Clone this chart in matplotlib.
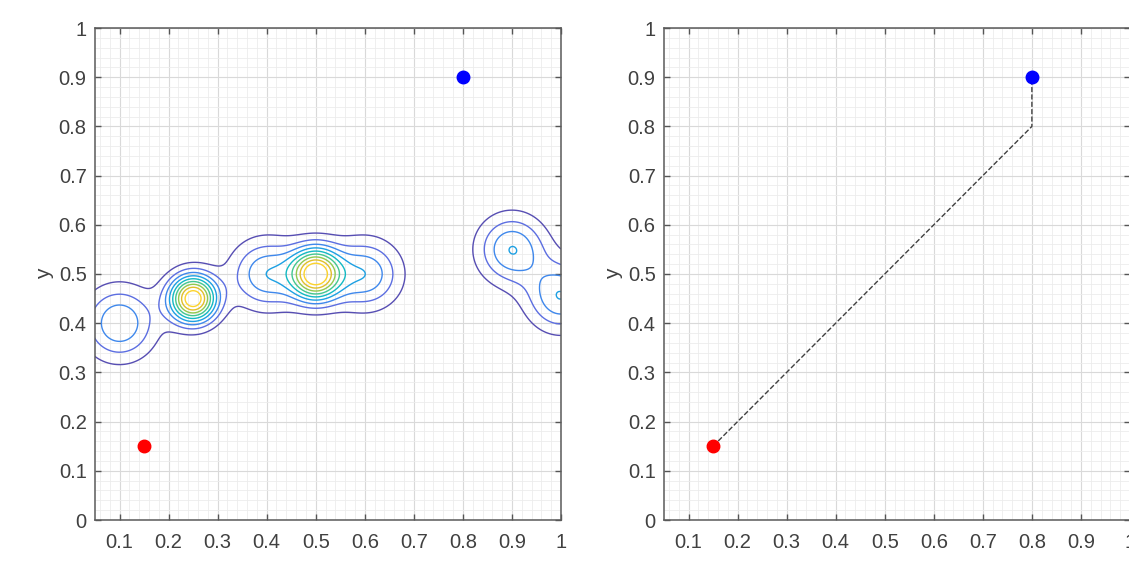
import numpy as np
import matplotlib.pyplot as plt
from matplotlib.colors import LinearSegmentedColormap
from matplotlib.ticker import MultipleLocator

plt.rcParams['font.family'] = ['Liberation Sans', 'DejaVu Sans']

# obstacle bumps of the potential field (centre, height, spread)
obs_x = [0.10, 0.25, 0.40, 0.50, 0.60, 0.90, 1.00]
obs_y = [0.40, 0.45, 0.50, 0.50, 0.50, 0.55, 0.455]
obs_amp = [3.9, 10.0, 3.85, 9.6, 3.85, 3.98, 3.98]
obs_sx = [0.051, 0.034, 0.050, 0.035, 0.050, 0.048, 0.048]
obs_sy = [0.051, 0.034, 0.048, 0.037, 0.048, 0.048, 0.048]
levels = [1, 2, 3, 4, 5, 6, 7, 8, 9]

start_x, start_y = 0.15, 0.15
goal_x, goal_y = 0.80, 0.90
path_x = [0.15, 0.80, 0.80]
path_y = [0.15, 0.80, 0.90]

# parula-like colormap
parula = LinearSegmentedColormap.from_list("parula", [
    (0.29, 0.24, 0.58), (0.40, 0.38, 0.85), (0.30, 0.50, 0.93),
    (0.1540, 0.5902, 0.9218), (0.0297, 0.7082, 0.8163), (0.1938, 0.7758, 0.6251),
    (0.5044, 0.7993, 0.3480), (0.8634, 0.7406, 0.1596), (0.9892, 0.8136, 0.1885),
    (0.9763, 0.9831, 0.0538)])

gx = np.linspace(0, 1, 501)
X, Y = np.meshgrid(gx, gx)
Z = np.zeros_like(X)
for cx, cy, a, sx, sy in zip(obs_x, obs_y, obs_amp, obs_sx, obs_sy):
    Z += a * np.exp(-(X - cx)**2 / (2 * sx**2) - (Y - cy)**2 / (2 * sy**2))

fig = plt.figure(figsize=(11.29, 5.67), dpi=100)
ax1 = fig.add_axes([95/1129, 47/567, 466/1129, 492/567])
ax2 = fig.add_axes([664/1129, 47/567, 466/1129, 492/567])

ax1.contour(X, Y, Z, levels=levels, cmap=parula, vmin=0.5, vmax=10, linewidths=1.0)
ax1.plot(start_x, start_y, 'o', color='#ff0000', markersize=9)
ax1.plot(goal_x, goal_y, 'o', color='#0000ff', markersize=9)

ax2.plot(path_x, path_y, '--', color='#404040', linewidth=1.0)
ax2.plot(start_x, start_y, 'o', color='#ff0000', markersize=9)
ax2.plot(goal_x, goal_y, 'o', color='#0000ff', markersize=9)

fmt = lambda v, p: '%g' % round(v, 2)

for ax in (ax1, ax2):
    ax.set_xlim(0.05, 1)
    ax.set_ylim(0, 1)
    ax.xaxis.set_major_locator(MultipleLocator(0.1))
    ax.yaxis.set_major_locator(MultipleLocator(0.1))
    ax.xaxis.set_minor_locator(MultipleLocator(0.02))
    ax.yaxis.set_minor_locator(MultipleLocator(0.02))
    ax.xaxis.set_major_formatter(fmt)
    ax.yaxis.set_major_formatter(fmt)
    ax.set_axisbelow(True)
    ax.grid(which='major', color='#d9d9d9', linewidth=0.8)
    ax.grid(which='minor', color='#ececec', linewidth=0.6)
    ax.tick_params(which='major', direction='in', length=4, width=1, color='#555555',
                   top=True, right=True, labelsize=14.5, labelcolor='#404040')
    ax.tick_params(axis='x', which='major', pad=9)
    ax.tick_params(axis='y', which='major', pad=6)
    ax.tick_params(which='minor', length=0)
    for s in ax.spines.values():
        s.set_color('#5a5a5a')
        s.set_linewidth(1.1)
    ax.set_xlabel('x', fontsize=15, color='#404040', labelpad=10)
    ax.set_ylabel('y', fontsize=15, color='#404040', labelpad=3)

fig.savefig('out.png', dpi=100)
